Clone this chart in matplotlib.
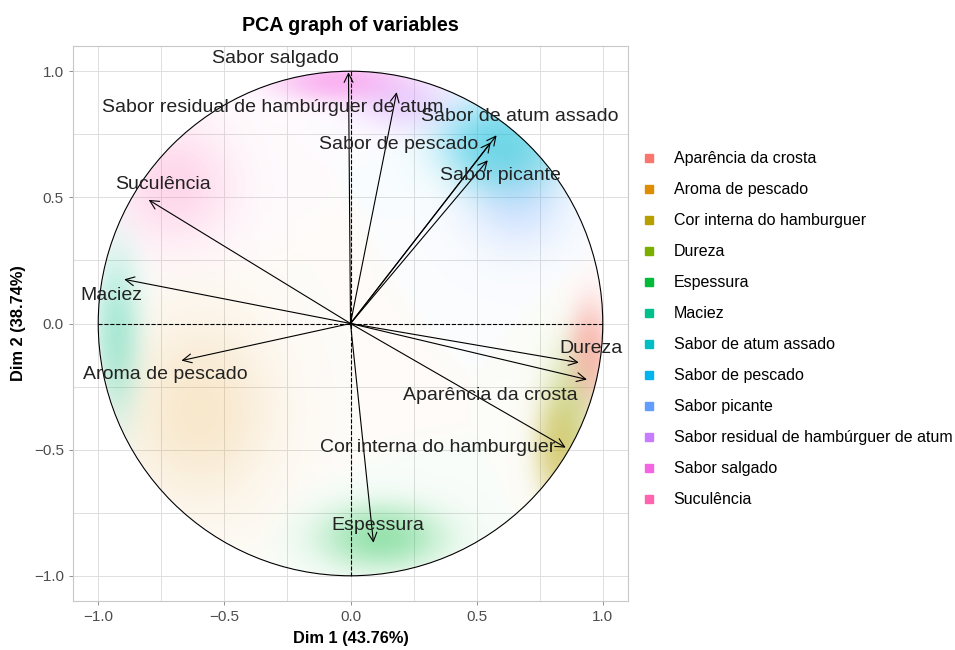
import numpy as np
import matplotlib.pyplot as plt
from matplotlib.colors import to_rgb
from matplotlib.lines import Line2D
from matplotlib.patches import Circle

plt.rcParams["font.family"] = ["Liberation Sans", "DejaVu Sans"]

# variable loadings on Dim 1 / Dim 2
variables = [
    "Aparência da crosta", "Aroma de pescado", "Cor interna do hamburguer",
    "Dureza", "Espessura", "Maciez", "Sabor de atum assado", "Sabor de pescado",
    "Sabor picante", "Sabor residual de hambúrguer de atum", "Sabor salgado",
    "Suculência",
]
dim1 = [0.937, -0.670, 0.853, 0.905, 0.091, -0.897, 0.579, 0.556, 0.544, 0.183, -0.008, -0.800]
dim2 = [-0.222, -0.147, -0.492, -0.155, -0.869, 0.175, 0.746, 0.718, 0.647, 0.917, 0.996, 0.490]
colors = ["#F8766D", "#DE8C00", "#B79F00", "#7CAE00", "#00BA38", "#00C08B",
          "#00BFC4", "#00B4F0", "#619CFF", "#C77CFF", "#F564E3", "#FF64B0"]

# where each label sits
label_x = [0.556, -0.734, 0.345, 0.952, 0.110, -0.948, 0.670, 0.190, 0.595, -0.310, -0.298, -0.742]
label_y = [-0.286, -0.202, -0.492, -0.099, -0.800, 0.111, 0.820, 0.710, 0.587, 0.857, 1.050, 0.552]

# resampled loading clouds: centre, spread and weight per variable
cloud_x = [0.95, -0.60, 0.83, 0.88, 0.12, -0.93, 0.62, 0.55, 0.66, 0.20, -0.05, -0.70]
cloud_y = [-0.12, -0.35, -0.50, -0.30, -0.85, -0.05, 0.68, 0.74, 0.50, 0.88, 0.96, 0.55]
cloud_sx = [0.05, 0.20, 0.06, 0.07, 0.15, 0.06, 0.12, 0.14, 0.13, 0.12, 0.15, 0.15]
cloud_sy = [0.12, 0.25, 0.13, 0.15, 0.08, 0.20, 0.10, 0.10, 0.13, 0.07, 0.05, 0.15]
cloud_w = [1.0, 0.25, 1.0, 0.4, 0.7, 0.5, 1.0, 0.6, 0.4, 0.5, 1.0, 0.35]

fig = plt.figure(figsize=(9.55, 6.5), dpi=100)
ax = fig.add_axes([73 / 955, 49 / 650, 555 / 955, 555 / 650])

# cloud haze
g = np.linspace(-1.05, 1.05, 700)
X, Y = np.meshgrid(g, g)
dens = np.zeros_like(X)
rgb = np.zeros(X.shape + (3,))
for cx, cy, sx, sy, w, c in zip(cloud_x, cloud_y, cloud_sx, cloud_sy, cloud_w, colors):
    k = w * np.exp(-0.5 * (((X - cx) / sx) ** 2 + ((Y - cy) / sy) ** 2))
    dens += k
    rgb += k[..., None] * np.array(to_rgb(c))
rgb /= np.maximum(dens, 1e-9)[..., None]
alpha = 0.62 * (1 - np.exp(-1.3 * dens)) + 0.03
alpha[X ** 2 + Y ** 2 > 1] = 0
img = np.dstack([rgb, alpha])
ax.imshow(img, extent=(-1.05, 1.05, -1.05, 1.05), origin="lower", zorder=1,
          interpolation="bilinear")

ax.set_xlim(-1.1, 1.1)
ax.set_ylim(-1.1, 1.1)
ax.set_xticks([-1.0, -0.5, 0.0, 0.5, 1.0])
ax.set_yticks([-1.0, -0.5, 0.0, 0.5, 1.0])
ax.set_xticks([-0.75, -0.25, 0.25, 0.75], minor=True)
ax.set_yticks([-0.75, -0.25, 0.25, 0.75], minor=True)
ax.grid(True, which="both", color="#dedede", linewidth=0.7, zorder=0)
ax.set_axisbelow(True)
ax.tick_params(which="major", length=3, color="#7f7f7f", labelcolor="#4d4d4d",
               labelsize=11, width=0.6)
ax.tick_params(which="minor", length=0)
for s in ax.spines.values():
    s.set_color("#c8c8c8")
    s.set_linewidth(0.8)

ax.add_patch(Circle((0, 0), 1, fill=False, color="black", linewidth=0.8, zorder=3))
ax.plot([-1, 1], [0, 0], color="black", linestyle="--", linewidth=0.8, zorder=3)
ax.plot([0, 0], [-1, 1], color="black", linestyle="--", linewidth=0.8, zorder=3)

for x, y, lx, ly, name in zip(dim1, dim2, label_x, label_y, variables):
    ax.annotate("", xy=(x, y), xytext=(0, 0), zorder=4,
                arrowprops=dict(arrowstyle="->", color="black", lw=0.8,
                                shrinkA=0, shrinkB=0, mutation_scale=16))
    ax.text(lx, ly, name, ha="center", va="center", fontsize=14,
            color="#222222", zorder=5)

ax.set_xlabel("Dim 1 (43.76%)", fontsize=11.8, fontweight="bold", labelpad=5)
ax.set_ylabel("Dim 2 (38.74%)", fontsize=11.8, fontweight="bold", labelpad=6)
ax.set_title("PCA graph of variables", fontsize=14.2, fontweight="bold", pad=11)

handles = [Line2D([], [], marker="s", linestyle="", color=c, markersize=6)
           for c in colors]
fig.legend(handles, variables, loc="upper left", bbox_to_anchor=(0.673, 0.767),
           frameon=False, fontsize=11.5, handlelength=0.75, handletextpad=1.19,
           labelspacing=1.0, borderpad=0, borderaxespad=0)

fig.savefig("out.png", dpi=100)
